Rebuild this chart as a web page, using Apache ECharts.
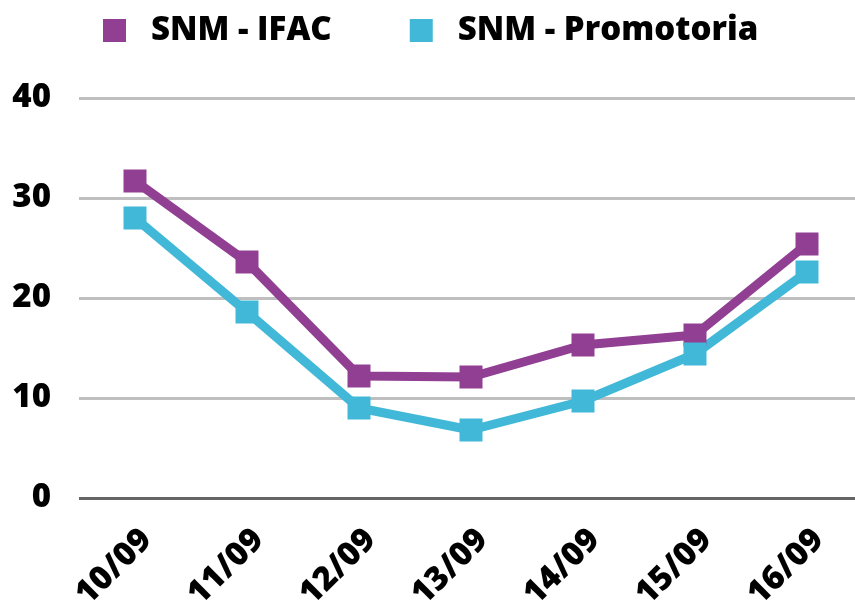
<!DOCTYPE html>
<html>
<head>
<meta charset="utf-8">
<script src="https://cdn.jsdelivr.net/npm/echarts@6/dist/echarts.min.js"></script>
<style>
  html, body { margin: 0; padding: 0; background: #fff; }
  #chart { width: 855px; height: 607px; }
</style>
</head>
<body>
<div id="chart"></div>
<script>
// dates on the x axis
const dates = ['10/09', '11/09', '12/09', '13/09', '14/09', '15/09', '16/09']
// values per series
const ifac = [31.7, 23.6, 12.2, 12.1, 15.3, 16.3, 25.4]
const promotoria = [28.0, 18.6, 9.0, 6.8, 9.7, 14.4, 22.6]
const seriesNames = ['SNM - IFAC', 'SNM - Promotoria']
const colors = ['#913f92', '#42b8d8']

const font = '"Open Sans", "Noto Sans", sans-serif'

const chart = echarts.init(document.getElementById('chart'))

const makeSeries = (name, data, color) => ({
  name: name,
  type: 'line',
  data: data,
  symbol: 'rect',
  symbolSize: 23,
  lineStyle: { width: 9, color: color },
  itemStyle: { color: color },
  emphasis: { disabled: true },
  animation: false
})

chart.setOption({
  color: colors,
  legend: {
    top: 9,
    left: 98,
    itemWidth: 23,
    itemHeight: 23,
    itemGap: 78,
    icon: 'rect',
    textStyle: {
      fontFamily: font,
      fontWeight: 800,
      fontSize: 33,
      color: '#000',
      padding: [0, 0, 0, 20]
    },
    data: seriesNames
  },
  grid: {
    left: 79,
    width: 784,
    top: 98,
    bottom: 109,
    containLabel: false,
    outerBoundsMode: 'none'
  },
  xAxis: {
    type: 'category',
    data: dates,
    boundaryGap: true,
    axisTick: { show: false },
    axisLine: { show: false },
    axisLabel: {
      rotate: 45,
      margin: 25,
      verticalAlign: 'top',
      fontFamily: font,
      fontWeight: 800,
      fontSize: 33,
      color: '#000'
    }
  },
  yAxis: {
    type: 'value',
    min: 0,
    max: 40,
    interval: 10,
    axisLine: { show: false },
    axisTick: { show: false },
    axisLabel: {
      margin: 28,
      fontFamily: font,
      fontWeight: 800,
      fontSize: 33,
      color: '#000'
    },
    splitLine: {
      lineStyle: {
        width: 3,
        color: ['#666666', '#bfbfbf', '#bfbfbf', '#bfbfbf', '#bfbfbf']
      }
    }
  },
  series: [
    makeSeries(seriesNames[0], ifac, colors[0]),
    makeSeries(seriesNames[1], promotoria, colors[1])
  ]
})
</script>
</body>
</html>
